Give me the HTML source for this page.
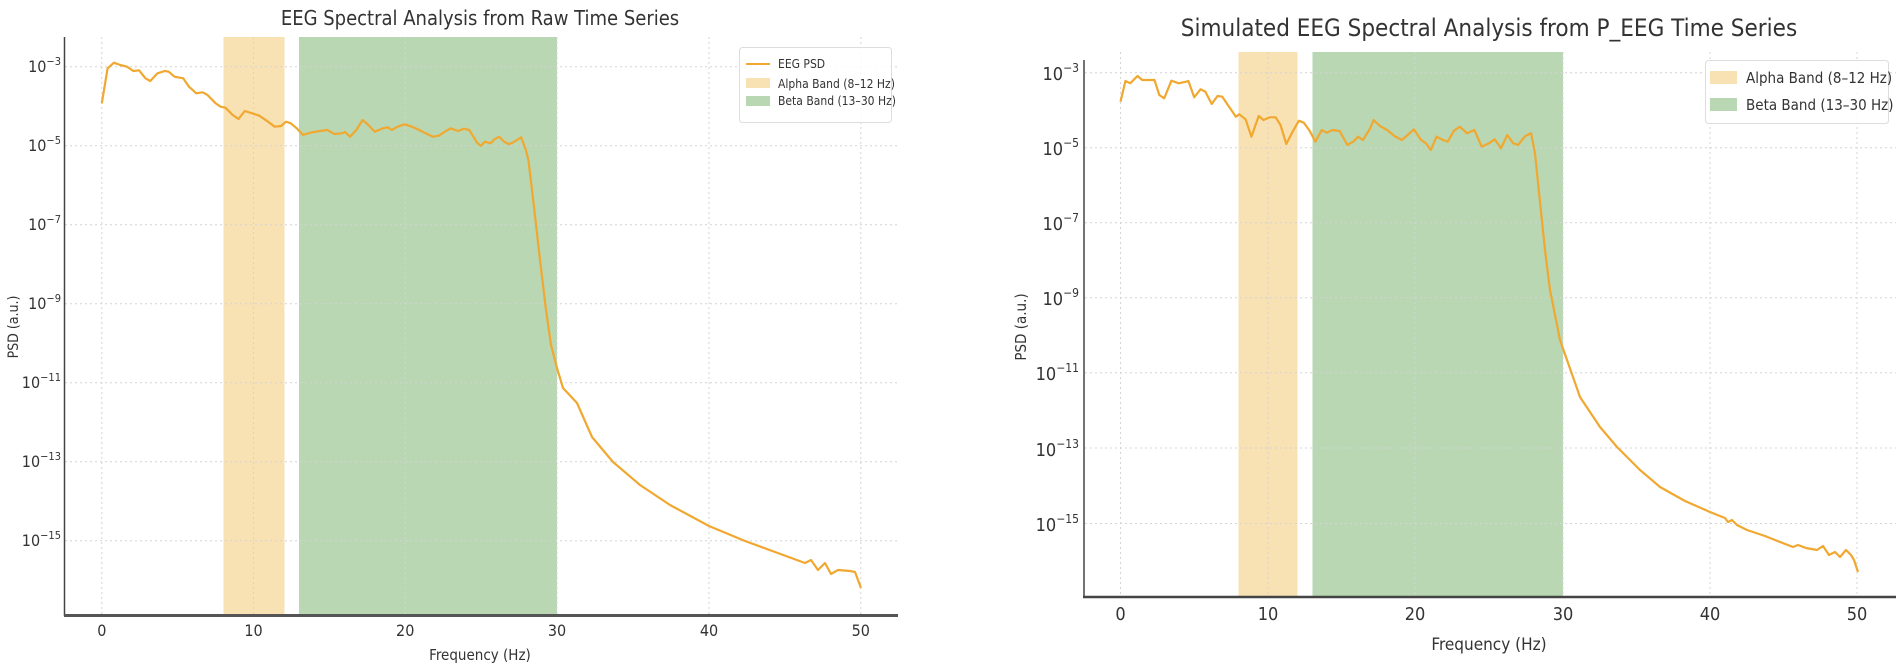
<!DOCTYPE html>
<html><head><meta charset="utf-8"><style>
html,body{margin:0;padding:0;background:#fff;}
svg{display:block;}
text{font-family:"Liberation Sans Narrow","DejaVu Sans Condensed","Liberation Sans",sans-serif;fill:#333;}
</style></head><body>
<svg id="s" width="1902" height="672" viewBox="0 0 1902 672" xmlns="http://www.w3.org/2000/svg">
<rect width="1902" height="672" fill="#fff"/>
<!-- LEFT CHART -->
<g id="L">
<rect x="223.5" y="37" width="61" height="578" fill="#f8e1b3"/>
<rect x="299" y="37" width="258" height="578" fill="#b9d7b3"/>
<g stroke="#d4d4d4" stroke-width="1" stroke-dasharray="2,3">
<line x1="101.8" y1="37" x2="101.8" y2="615"/><line x1="253.5" y1="37" x2="253.5" y2="615"/>
<line x1="405.2" y1="37" x2="405.2" y2="615"/><line x1="557" y1="37" x2="557" y2="615"/>
<line x1="709" y1="37" x2="709" y2="615"/><line x1="860.8" y1="37" x2="860.8" y2="615"/>
<line x1="65" y1="66.7" x2="898" y2="66.7"/><line x1="65" y1="145.7" x2="898" y2="145.7"/>
<line x1="65" y1="224.7" x2="898" y2="224.7"/><line x1="65" y1="303.7" x2="898" y2="303.7"/>
<line x1="65" y1="382.7" x2="898" y2="382.7"/><line x1="65" y1="461.7" x2="898" y2="461.7"/>
<line x1="65" y1="540.7" x2="898" y2="540.7"/>
</g>
<path id="lp" fill="none" stroke="#f0a830" stroke-width="2.2" stroke-linejoin="round"/>
<line x1="64.5" y1="37" x2="64.5" y2="616" stroke="#444" stroke-width="1.5"/>
<line x1="64" y1="615.5" x2="898" y2="615.5" stroke="#555" stroke-width="3"/>
<g font-size="16" text-anchor="middle">
<text x="101.8" y="636">0</text><text x="253.5" y="636">10</text><text x="405.2" y="636">20</text>
<text x="557" y="636">30</text><text x="709" y="636">40</text><text x="860.8" y="636">50</text>
</g>
<g font-size="16" text-anchor="end">
<text x="61" y="72">10<tspan font-size="11" dy="-7">−3</tspan></text>
<text x="61" y="151">10<tspan font-size="11" dy="-7">−5</tspan></text>
<text x="61" y="230">10<tspan font-size="11" dy="-7">−7</tspan></text>
<text x="61" y="309">10<tspan font-size="11" dy="-7">−9</tspan></text>
<text x="61" y="388">10<tspan font-size="11" dy="-7">−11</tspan></text>
<text x="61" y="467">10<tspan font-size="11" dy="-7">−13</tspan></text>
<text x="61" y="546">10<tspan font-size="11" dy="-7">−15</tspan></text>
</g>
<text x="480" y="660" font-size="15" text-anchor="middle">Frequency (Hz)</text>
<text transform="translate(18,327) rotate(-90)" font-size="14" text-anchor="middle" font-family="DejaVu Sans, sans-serif">PSD (a.u.)</text>
<text x="480" y="25" font-size="20" text-anchor="middle">EEG Spectral Analysis from Raw Time Series</text>
<rect x="739.5" y="47.5" width="152" height="75" rx="3" fill="#fff" fill-opacity="0.85" stroke="#ddd"/>
<line x1="746" y1="64" x2="770" y2="64" stroke="#f0a830" stroke-width="2"/>
<rect x="746" y="78" width="24" height="10" fill="#f8e1b3"/>
<rect x="746" y="96" width="24" height="10" fill="#b9d7b3"/>
<g font-size="12"><text x="778" y="68">EEG PSD</text><text x="778" y="88">Alpha Band (8–12 Hz)</text><text x="778" y="105">Beta Band (13–30 Hz)</text></g>
</g>
<!-- RIGHT CHART -->
<g id="R">
<rect x="1238.5" y="52" width="59" height="545" fill="#f8e1b3"/>
<rect x="1312.5" y="52" width="250.5" height="545" fill="#b9d7b3"/>
<g stroke="#d4d4d4" stroke-width="1" stroke-dasharray="2,3">
<line x1="1120.5" y1="52" x2="1120.5" y2="597"/><line x1="1268" y1="52" x2="1268" y2="597"/>
<line x1="1415" y1="52" x2="1415" y2="597"/><line x1="1563" y1="52" x2="1563" y2="597"/>
<line x1="1710" y1="52" x2="1710" y2="597"/><line x1="1857" y1="52" x2="1857" y2="597"/>
<line x1="1085" y1="72.7" x2="1896" y2="72.7"/><line x1="1085" y1="147.7" x2="1896" y2="147.7"/>
<line x1="1085" y1="222.7" x2="1896" y2="222.7"/><line x1="1085" y1="297.7" x2="1896" y2="297.7"/>
<line x1="1085" y1="372.7" x2="1896" y2="372.7"/><line x1="1085" y1="448" x2="1896" y2="448"/>
<line x1="1085" y1="523.5" x2="1896" y2="523.5"/>
</g>
<path id="rp" fill="none" stroke="#f0a830" stroke-width="2.2" stroke-linejoin="round"/>
<line x1="1084" y1="60" x2="1084" y2="598" stroke="#444" stroke-width="1.5"/>
<line x1="1083" y1="597" x2="1896" y2="597" stroke="#444" stroke-width="2.5"/>
<g font-size="18" text-anchor="middle">
<text x="1120.5" y="620">0</text><text x="1268" y="620">10</text><text x="1415" y="620">20</text>
<text x="1563" y="620">30</text><text x="1710" y="620">40</text><text x="1857" y="620">50</text>
</g>
<g font-size="18" text-anchor="end">
<text x="1079" y="80">10<tspan font-size="12" dy="-8">−3</tspan></text>
<text x="1079" y="155">10<tspan font-size="12" dy="-8">−5</tspan></text>
<text x="1079" y="230">10<tspan font-size="12" dy="-8">−7</tspan></text>
<text x="1079" y="305">10<tspan font-size="12" dy="-8">−9</tspan></text>
<text x="1079" y="380">10<tspan font-size="12" dy="-8">−11</tspan></text>
<text x="1079" y="456">10<tspan font-size="12" dy="-8">−13</tspan></text>
<text x="1079" y="531">10<tspan font-size="12" dy="-8">−15</tspan></text>
</g>
<text x="1489" y="650" font-size="17" text-anchor="middle">Frequency (Hz)</text>
<text transform="translate(1026,327) rotate(-90)" font-size="15" text-anchor="middle" font-family="DejaVu Sans, sans-serif">PSD (a.u.)</text>
<text x="1489" y="36" font-size="24" text-anchor="middle">Simulated EEG Spectral Analysis from P_EEG Time Series</text>
<rect x="1705.5" y="60.5" width="183" height="63" rx="3" fill="#fff" fill-opacity="0.85" stroke="#ddd"/>
<rect x="1710" y="71" width="27" height="13" fill="#f8e1b3"/>
<rect x="1710" y="98" width="27" height="13" fill="#b9d7b3"/>
<g font-size="15"><text x="1746" y="83">Alpha Band (8–12 Hz)</text><text x="1746" y="110">Beta Band (13–30 Hz)</text></g>
</g>
<script>
var lz=[[210,310],[222,205],[235,188],[248,195],[262,200],[275,213],[287,211],[300,235],[310,243],[325,220],[340,213],[348,215],[360,230],[378,235],[390,260],[405,280],[418,277],[428,285],[445,310],[455,320],[465,323],[480,345],[492,357],[505,333],[520,340],[535,347],[550,362],[567,380],[580,378],[590,365],[600,370],[612,385],[625,405],[640,398],[660,393],[675,390],[690,402],[705,400],[712,396],[722,410],[735,390],[748,360],[760,375],[773,395],[790,385],[800,382],[808,390],[820,380],[835,373],[850,380],[865,390],[878,400],[893,410],[905,407],[920,393],[930,385],[945,393],[957,386],[968,390],[985,430],[992,437],[1000,425],[1012,430],[1020,418],[1030,410],[1040,425],[1050,433],[1060,426],[1075,412],[1085,450],[1090,480],[1100,600]];
var lt=[[540,260],[546,310],[551,345],[557,368],[563,388],[577,403],[592,437],[613,462],[640,485],[670,505],[709,526],[745,541],[775,552],[805,563],[811,560],[818,570],[825,563],[831,574],[838,570],[850,571],[855,572],[861,588]];
var d="";lz.forEach(function(p,i){d+=(i?"L":"M")+(p[0]/2.063).toFixed(1)+","+(p[1]/3).toFixed(1);});
lt.forEach(function(p){d+="L"+p[0]+","+p[1];});
document.getElementById("lp").setAttribute("d",d);
var rz=[[620,305],[630,243],[640,250],[655,228],[665,240],[680,240],[690,240],[700,285],[710,295],[725,242],[740,250],[755,245],[760,243],[772,292],[785,268],[795,275],[808,312],[820,288],[830,290],[840,312],[858,350],[865,343],[878,358],[890,410],[905,348],[915,360],[928,352],[940,352],[950,375],[962,432],[975,395],[988,362],[998,368],[1010,392],[1022,425],[1035,390],[1045,398],[1058,390],[1072,393],[1088,435],[1100,425],[1110,410],[1120,420],[1135,385],[1142,360],[1155,378],[1170,390],[1185,408],[1200,420],[1215,402],[1225,388],[1240,420],[1250,430],[1260,450],[1272,410],[1285,420],[1295,425],[1308,392],[1320,380],[1335,400],[1350,390],[1365,440],[1380,430],[1392,418],[1405,445],[1418,405],[1430,430],[1440,435],[1455,408],[1467,400],[1475,460],[1480,530],[1485,600]];
var rt=[[1545,250],[1550,290],[1555,315],[1560,340],[1580,397],[1600,427],[1617,447],[1640,470],[1660,487],[1685,501],[1710,512],[1725,518],[1728,522],[1732,520],[1737,525],[1747,530],[1765,536],[1775,540],[1793,547],[1798,545],[1806,548],[1817,550],[1823,546],[1829,555],[1835,552],[1840,557],[1846,550],[1851,555],[1854,560],[1858,572]];
d="";rz.forEach(function(p,i){d+=(i?"L":"M")+(820+p[0]/2.063).toFixed(1)+","+(p[1]/3).toFixed(1);});
rt.forEach(function(p){d+="L"+p[0]+","+p[1];});
document.getElementById("rp").setAttribute("d",d);
</script>
</svg>
</body></html>
